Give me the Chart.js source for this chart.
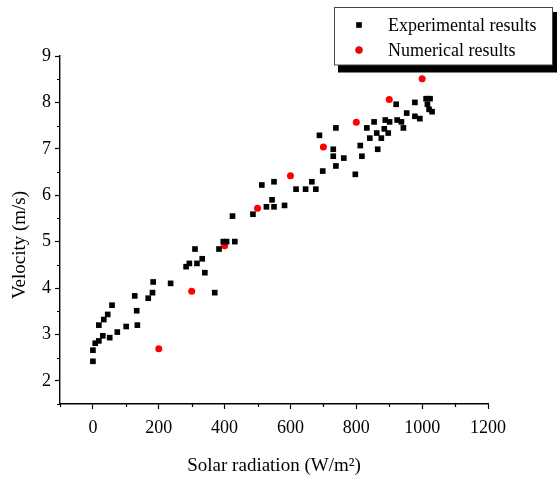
<!DOCTYPE html>
<html>
<head>
<meta charset="utf-8">
<script src="https://cdn.jsdelivr.net/npm/chart.js@4"></script>
<style>
  html, body { margin: 0; padding: 0; background: #fff; }
  #box { width: 557px; height: 480px; }
</style>
</head>
<body>
<div id="box"><canvas id="velChart" width="557" height="480"></canvas></div>
<script>
// Experimental results (solar radiation W/m2, velocity m/s)
const expX = [0, 0, 7, 18, 30, 51, 74, 101, 135, 133, 18, 33, 45, 58, 127, 168, 181, 183, 236,
  283, 293, 316, 332, 310, 340, 370, 383, 396, 406, 431, 424, 486, 513, 550, 527, 544, 550, 582,
  617, 646, 665, 677, 698, 688, 738, 730, 730, 762, 738, 797, 812, 817, 832, 854, 841, 862, 876,
  865, 885, 888, 897, 901, 921, 924, 937, 943, 953, 978, 978, 993, 1012, 1024, 1016, 1021, 1030];
const expY = [2.42, 2.66, 2.81, 2.86, 2.97, 2.93, 3.05, 3.17, 3.20, 3.51, 3.20, 3.32, 3.43, 3.63, 3.83, 3.78, 3.90, 4.13, 4.10,
  4.46, 4.53, 4.53, 4.63, 4.84, 4.33, 3.90, 4.84, 5.00, 5.00, 5.00, 5.55, 5.59, 6.22, 6.29, 5.75, 5.90, 5.75, 5.78,
  6.13, 6.13, 6.29, 6.13, 6.52, 7.29, 7.45, 6.99, 6.84, 6.80, 6.63, 6.45, 7.07, 6.84, 7.45, 7.58, 7.23, 7.34, 7.23,
  6.99, 7.43, 7.62, 7.34, 7.58, 7.96, 7.62, 7.58, 7.45, 7.77, 8.00, 7.70, 7.65, 8.08, 8.08, 7.96, 7.85, 7.80];

// Numerical results
const numX = [200, 300, 400, 500, 600, 700, 800, 900, 1000];
const numY = [2.69, 3.93, 4.91, 5.72, 6.42, 7.04, 7.57, 8.06, 8.51];

const seriesNames = ['Experimental results', 'Numerical results'];
const xTitle = 'Solar radiation (W/m²)';
const yTitle = 'Velocity (m/s)';

const FONT = 'Liberation Serif, Times New Roman, serif';

function toPoints(xs, ys) {
    return xs.map((x, i) => ({ x: x, y: ys[i] }));
}

// petits ticks secondaires + titre Y + légende encadrée
const decorPlugin = {
    id: 'decor',
    afterDraw(chart) {
        const ctx = chart.ctx;
        const xs = chart.scales.x, ys = chart.scales.y;
        ctx.save();
        ctx.strokeStyle = '#000';
        ctx.lineWidth = 1.2;
        ctx.beginPath();
        xs.ticks.forEach(t => {
            if (t.value % 200 !== 0) {
                const px = Math.round(xs.getPixelForValue(t.value)) + 0.5;
                ctx.moveTo(px, xs.top);
                ctx.lineTo(px, xs.top + 3);
            }
        });
        ys.ticks.forEach(t => {
            if (!Number.isInteger(t.value)) {
                const py = Math.round(ys.getPixelForValue(t.value)) + 0.5;
                ctx.moveTo(ys.right - 3, py);
                ctx.lineTo(ys.right, py);
            }
        });
        ctx.stroke();

        // titre de l'axe Y
        ctx.fillStyle = '#000';
        ctx.font = '19px ' + FONT;
        ctx.textAlign = 'center';
        ctx.textBaseline = 'middle';
        ctx.translate(20, 245);
        ctx.rotate(-Math.PI / 2);
        ctx.fillText(yTitle, 0, 0);
        ctx.restore();

        // légende
        ctx.save();
        ctx.fillStyle = '#000';
        ctx.fillRect(338, 12, 225, 60.5);
        ctx.fillStyle = '#fff';
        ctx.fillRect(334.5, 7.5, 218, 57.5);
        ctx.strokeStyle = '#444';
        ctx.lineWidth = 1;
        ctx.strokeRect(334.5, 7.5, 218, 57.5);
        const rows = [25, 50];
        chart.data.datasets.forEach((ds, i) => {
            Chart.helpers.drawPoint(ctx, {
                pointStyle: ds.pointStyle,
                radius: ds.pointRadius,
                borderWidth: 0
            }, 359, rows[i]);
            ctx.fillStyle = ds.backgroundColor;
            ctx.fill();
            ctx.fillStyle = '#000';
            ctx.font = '18px ' + FONT;
            ctx.textAlign = 'left';
            ctx.textBaseline = 'middle';
            ctx.fillText(ds.label, 388, rows[i] + 1);
        });
        ctx.restore();
    }
};

document.addEventListener('DOMContentLoaded', () => {
    const ctx = document.getElementById('velChart').getContext('2d');
    new Chart(ctx, {
        type: 'scatter',
        data: {
            datasets: [{
                label: seriesNames[0],
                data: toPoints(expX, expY),
                pointStyle: 'rect',
                pointRadius: 4,
                backgroundColor: '#000',
                borderColor: '#000',
                borderWidth: 0
            }, {
                label: seriesNames[1],
                data: toPoints(numX, numY),
                pointStyle: 'circle',
                pointRadius: 3.5,
                backgroundColor: '#ff0000',
                borderColor: '#ff0000',
                borderWidth: 0
            }]
        },
        options: {
            responsive: false,
            animation: false,
            layout: { padding: { top: 56, right: 69, left: 0, bottom: 0 } },
            plugins: {
                legend: { display: false },
                tooltip: { enabled: false }
            },
            scales: {
                x: {
                    type: 'linear',
                    min: -100,
                    max: 1200,
                    afterFit: s => { s.height = 76; },
                    border: { display: true, color: '#000', width: 1.4 },
                    grid: {
                        drawOnChartArea: false,
                        drawTicks: true,
                        tickLength: 5,
                        tickWidth: 1.2,
                        tickColor: c => (c.tick && c.tick.value % 200 === 0) ? '#000' : 'rgba(0,0,0,0)'
                    },
                    ticks: {
                        stepSize: 100,
                        autoSkip: false,
                        maxRotation: 0,
                        padding: 8,
                        color: '#000',
                        font: { family: FONT, size: 18 },
                        callback: v => (v % 200 === 0 ? v : '')
                    },
                    title: {
                        display: true,
                        text: xTitle,
                        color: '#000',
                        font: { family: FONT, size: 19 },
                        padding: { top: 0, bottom: 3 }
                    }
                },
                y: {
                    type: 'linear',
                    min: 1.5,
                    max: 9,
                    afterFit: s => { s.width = 60; },
                    border: { display: true, color: '#000', width: 1.4 },
                    grid: {
                        drawOnChartArea: false,
                        drawTicks: true,
                        tickLength: 5,
                        tickWidth: 1.2,
                        tickColor: c => (c.tick && Number.isInteger(c.tick.value)) ? '#000' : 'rgba(0,0,0,0)'
                    },
                    ticks: {
                        stepSize: 0.5,
                        autoSkip: false,
                        padding: 4,
                        color: '#000',
                        font: { family: FONT, size: 18 },
                        callback: v => (Number.isInteger(v) ? v : '')
                    }
                }
            }
        },
        plugins: [decorPlugin]
    });
});
</script>
</body>
</html>
